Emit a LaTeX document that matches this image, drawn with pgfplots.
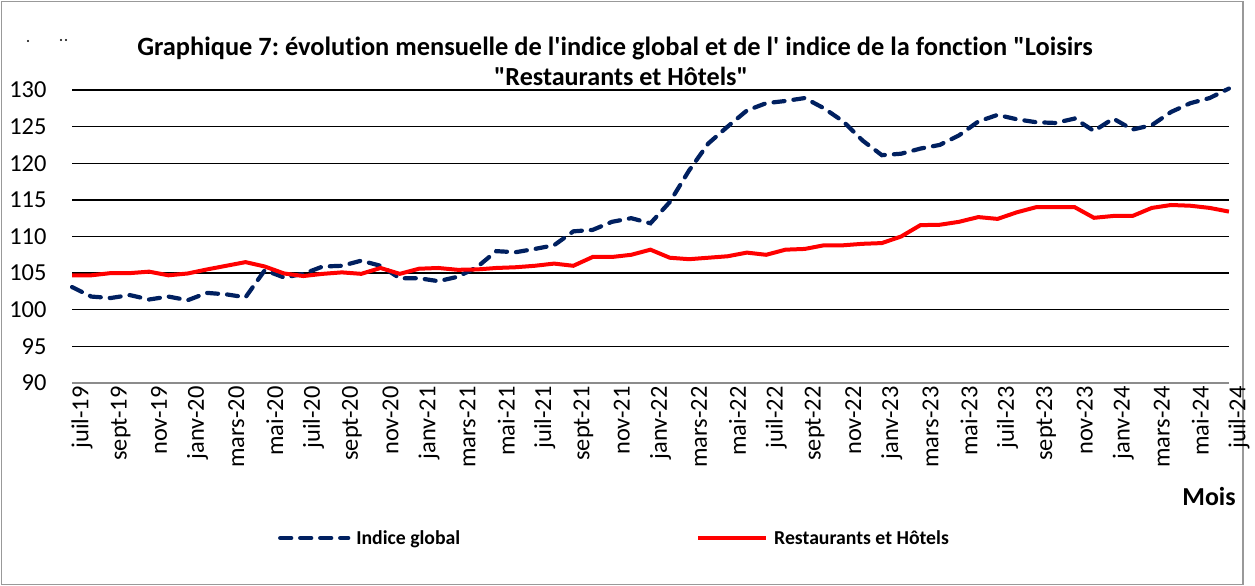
\documentclass[border=0pt]{standalone}
\usepackage{fontspec}
\setmainfont{Carlito}[Ligatures={TeXOff,NoCommon}]
\usepackage{pgfplots}
\pgfplotsset{compat=1.18}
\definecolor{navyIdx}{HTML}{002060}
\definecolor{redRH}{HTML}{FF0000}
\frenchspacing

\pgfplotstableread{
i global resto
0 103.1 104.7
1 101.8 104.7
2 101.6 105.0
3 102.0 105.0
4 101.4 105.2
5 101.8 104.7
6 101.3 104.95
7 102.3 105.5
8 102.1 106.0
9 101.7 106.5
10 105.4 105.9
11 104.4 104.95
12 104.9 104.6
13 105.9 104.9
14 106.0 105.1
15 106.7 104.9
16 106.0 105.7
17 104.3 104.9
18 104.3 105.6
19 103.9 105.7
20 104.5 105.45
21 105.8 105.5
22 108.0 105.7
23 107.85 105.8
24 108.3 106.0
25 108.8 106.3
26 110.7 106.0
27 110.9 107.2
28 112.0 107.2
29 112.5 107.5
30 111.8 108.2
31 114.7 107.1
32 119.0 106.9
33 122.7 107.1
34 125.0 107.3
35 127.2 107.8
36 128.2 107.5
37 128.5 108.2
38 128.9 108.3
39 127.5 108.8
40 125.7 108.8
41 123.1 109.0
42 121.1 109.1
43 121.3 110.0
44 122.0 111.55
45 122.5 111.6
46 123.8 112.0
47 125.7 112.65
48 126.6 112.4
49 126.0 113.3
50 125.6 114.0
51 125.5 114.0
52 126.1 114.0
53 124.4 112.55
54 126.1 112.8
55 124.6 112.8
56 125.2 113.9
57 127.0 114.3
58 128.2 114.2
59 128.9 113.9
60 130.2 113.4
}\monthly

\begin{document}
\begin{tikzpicture}[x=1bp,y=1bp]
\path[fill=white] (0,0) rectangle (1255,586);
\draw[black!40, line width=1.5bp] (1.5,1.5) rectangle (1243,584.5);
\fill[black] (28,545) circle (1.2);
\fill[black] (61,546) circle (1.2);
\fill[black] (66,546) circle (1.2);
\begin{axis}[
  at={(72bp,203bp)}, anchor=south west,
  scale only axis, width=1157bp, height=293bp,
  xmin=0, xmax=60, ymin=90, ymax=130,
  clip=false,
  axis line style={draw=none},
  xtick={0,2,...,60},
  xticklabels={juil-19,sept-19,nov-19,janv-20,mars-20,mai-20,juil-20,sept-20,nov-20,janv-21,mars-21,mai-21,juil-21,sept-21,nov-21,janv-22,mars-22,mai-22,juil-22,sept-22,nov-22,janv-23,mars-23,mai-23,juil-23,sept-23,nov-23,janv-24,mars-24,mai-24,juil-24},
  ytick={95,100,...,130},
  extra y ticks={90},
  extra y tick style={grid style={black!45, line width=1.6bp}},
  major tick length=0pt,
  ymajorgrids,
  grid style={black, line width=1.3bp},
  /pgf/number format/assume math mode=true,
  yticklabel style={font=\fontsize{24.5}{28}\selectfont, anchor=east, xshift=-22bp},
  xticklabel style={font=\fontsize{24.5}{28}\selectfont, rotate=90, anchor=east, yshift=-10bp},
  legend columns=2,
  legend style={at={(0.178,-0.529)}, anchor=west, draw=none, fill=none,
    font=\fontsize{19.8}{23}\bfseries, inner sep=0pt,
    /tikz/every odd column/.append style={column sep=4bp},
    /tikz/every even column/.append style={column sep=234bp}},
  legend cell align=left,
  legend image code/.code={\draw[#1] (0bp,0bp) -- (68bp,0bp);},
]
\addplot[navyIdx, line width=4.2bp, line cap=round, dash pattern=on 11bp off 9bp] table[x=i, y=global] {\monthly};
\addplot[redRH, line width=4bp] table[x=i, y=resto] {\monthly};
\legend{Indice global, Restaurants et Hôtels}
\end{axis}
\node[font=\fontsize{26.5}{30}\bfseries] at (615,538) {Graphique 7: évolution mensuelle de l'indice global et de l' indice de la fonction "Loisirs};
\node[font=\fontsize{26.2}{30}\bfseries] at (621,510) {"Restaurants et Hôtels"};
\node[font=\fontsize{26}{30}\bfseries] at (1209,89) {Mois};
\end{tikzpicture}
\end{document}
